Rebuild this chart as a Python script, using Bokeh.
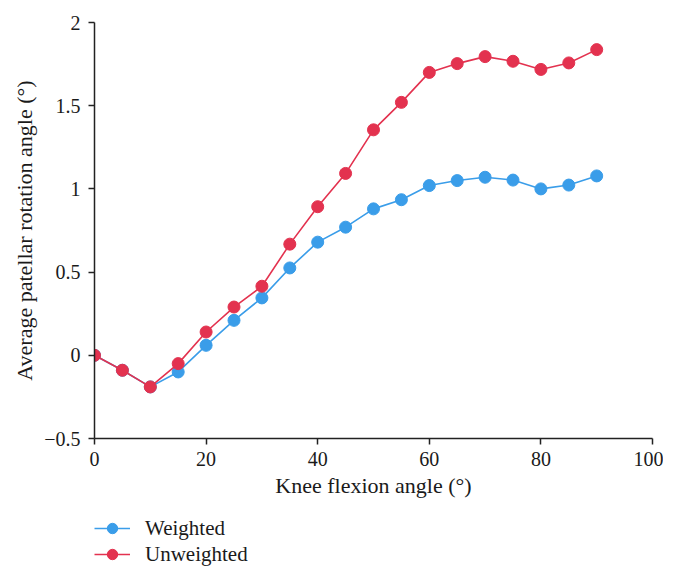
from bokeh.plotting import figure
from bokeh.models import Legend, LegendItem, Range1d, FixedTicker
from bokeh.layouts import column
from bokeh.embed import file_html
from bokeh.resources import INLINE

angles = [0, 5, 10, 15, 20, 25, 30, 35, 40, 45, 50, 55, 60, 65, 70, 75, 80, 85, 90]
weighted = [0.0, -0.09, -0.19, -0.10, 0.06, 0.21, 0.345, 0.525, 0.68, 0.77, 0.88, 0.935,
            1.02, 1.05, 1.07, 1.053, 1.0, 1.023, 1.078]
unweighted = [0.0, -0.09, -0.19, -0.05, 0.14, 0.29, 0.415, 0.668, 0.893, 1.093, 1.355, 1.52,
              1.70, 1.753, 1.795, 1.767, 1.718, 1.757, 1.837]
x_ticks = [0, 20, 40, 60, 80, 100]
y_ticks = [-0.5, 0, 0.5, 1, 1.5, 2]
series_names = ["Weighted", "Unweighted"]

BLUE = "#3a9de9"
RED = "#e3324f"
FONT = "Liberation Serif"
TXT = "#1a1a1a"

p = figure(width=663, height=505, output_backend="svg", toolbar_location=None,
           x_range=Range1d(0, 100), y_range=Range1d(-0.5, 2))
p.min_border_left = 94
p.min_border_right = 11
p.min_border_top = 22
p.min_border_bottom = 67
p.outline_line_color = None
p.grid.visible = False

for ax in (p.xaxis[0], p.yaxis[0]):
    ax.axis_line_color = "#222222"
    ax.axis_line_width = 1.5
    ax.major_tick_line_color = "#222222"
    ax.major_tick_line_width = 1.5
    ax.major_tick_out = 6
    ax.major_tick_in = 0
    ax.minor_tick_out = 0
    ax.minor_tick_in = 0
    ax.major_label_text_font = FONT
    ax.major_label_text_font_size = "20px"
    ax.major_label_text_color = TXT
    ax.axis_label_text_font = FONT
    ax.axis_label_text_font_size = "22px"
    ax.axis_label_text_font_style = "normal"
    ax.axis_label_text_color = TXT

p.xaxis.ticker = FixedTicker(ticks=x_ticks)
p.yaxis.ticker = FixedTicker(ticks=y_ticks)
p.yaxis.major_label_overrides = {-0.5: "\u22120.5", 0: "0", 0.5: "0.5", 1: "1", 1.5: "1.5", 2: "2"}
p.xaxis.axis_label = "Knee flexion angle (\u00b0)"
p.yaxis.axis_label = "Average patellar rotation angle (\u00b0)"
p.xaxis.major_label_standoff = 7
p.xaxis.axis_label_standoff = 4
p.yaxis.major_label_standoff = 8
p.yaxis.axis_label_standoff = 4

p.line(angles, weighted, line_color=BLUE, line_width=1.6)
p.scatter(angles, weighted, size=12, fill_color=BLUE, line_color=BLUE)
p.line(angles, unweighted, line_color=RED, line_width=1.6)
p.scatter(angles, unweighted, size=12, fill_color=RED, line_color=RED)

# legend strip below the chart (its own series lie outside its visible range)
lf = figure(width=663, height=62, output_backend="svg", toolbar_location=None,
            x_range=Range1d(0, 100), y_range=Range1d(10, 11))
lf.axis.visible = False
lf.grid.visible = False
lf.outline_line_color = None
lf.min_border = 0
items = []
for name, col, vals in zip(series_names, [BLUE, RED], [weighted, unweighted]):
    l = lf.line(angles, vals, line_color=col, line_width=1.6)
    s = lf.scatter(angles, vals, size=12, fill_color=col, line_color=col)
    items.append(LegendItem(label=name, renderers=[l, s]))
legend = Legend(items=items, location=(0, 0))
legend.border_line_color = None
legend.background_fill_alpha = 0
legend.padding = 0
legend.margin = 0
legend.spacing = 0
legend.glyph_width = 36
legend.glyph_height = 26
legend.label_standoff = 15
legend.label_height = 26
legend.label_text_font = FONT
legend.label_text_font_size = "21px"
legend.label_text_color = TXT
lf.add_layout(legend, "center")

layout = column(p, lf, spacing=0)
open("out.html", "w").write(file_html(layout, INLINE))
